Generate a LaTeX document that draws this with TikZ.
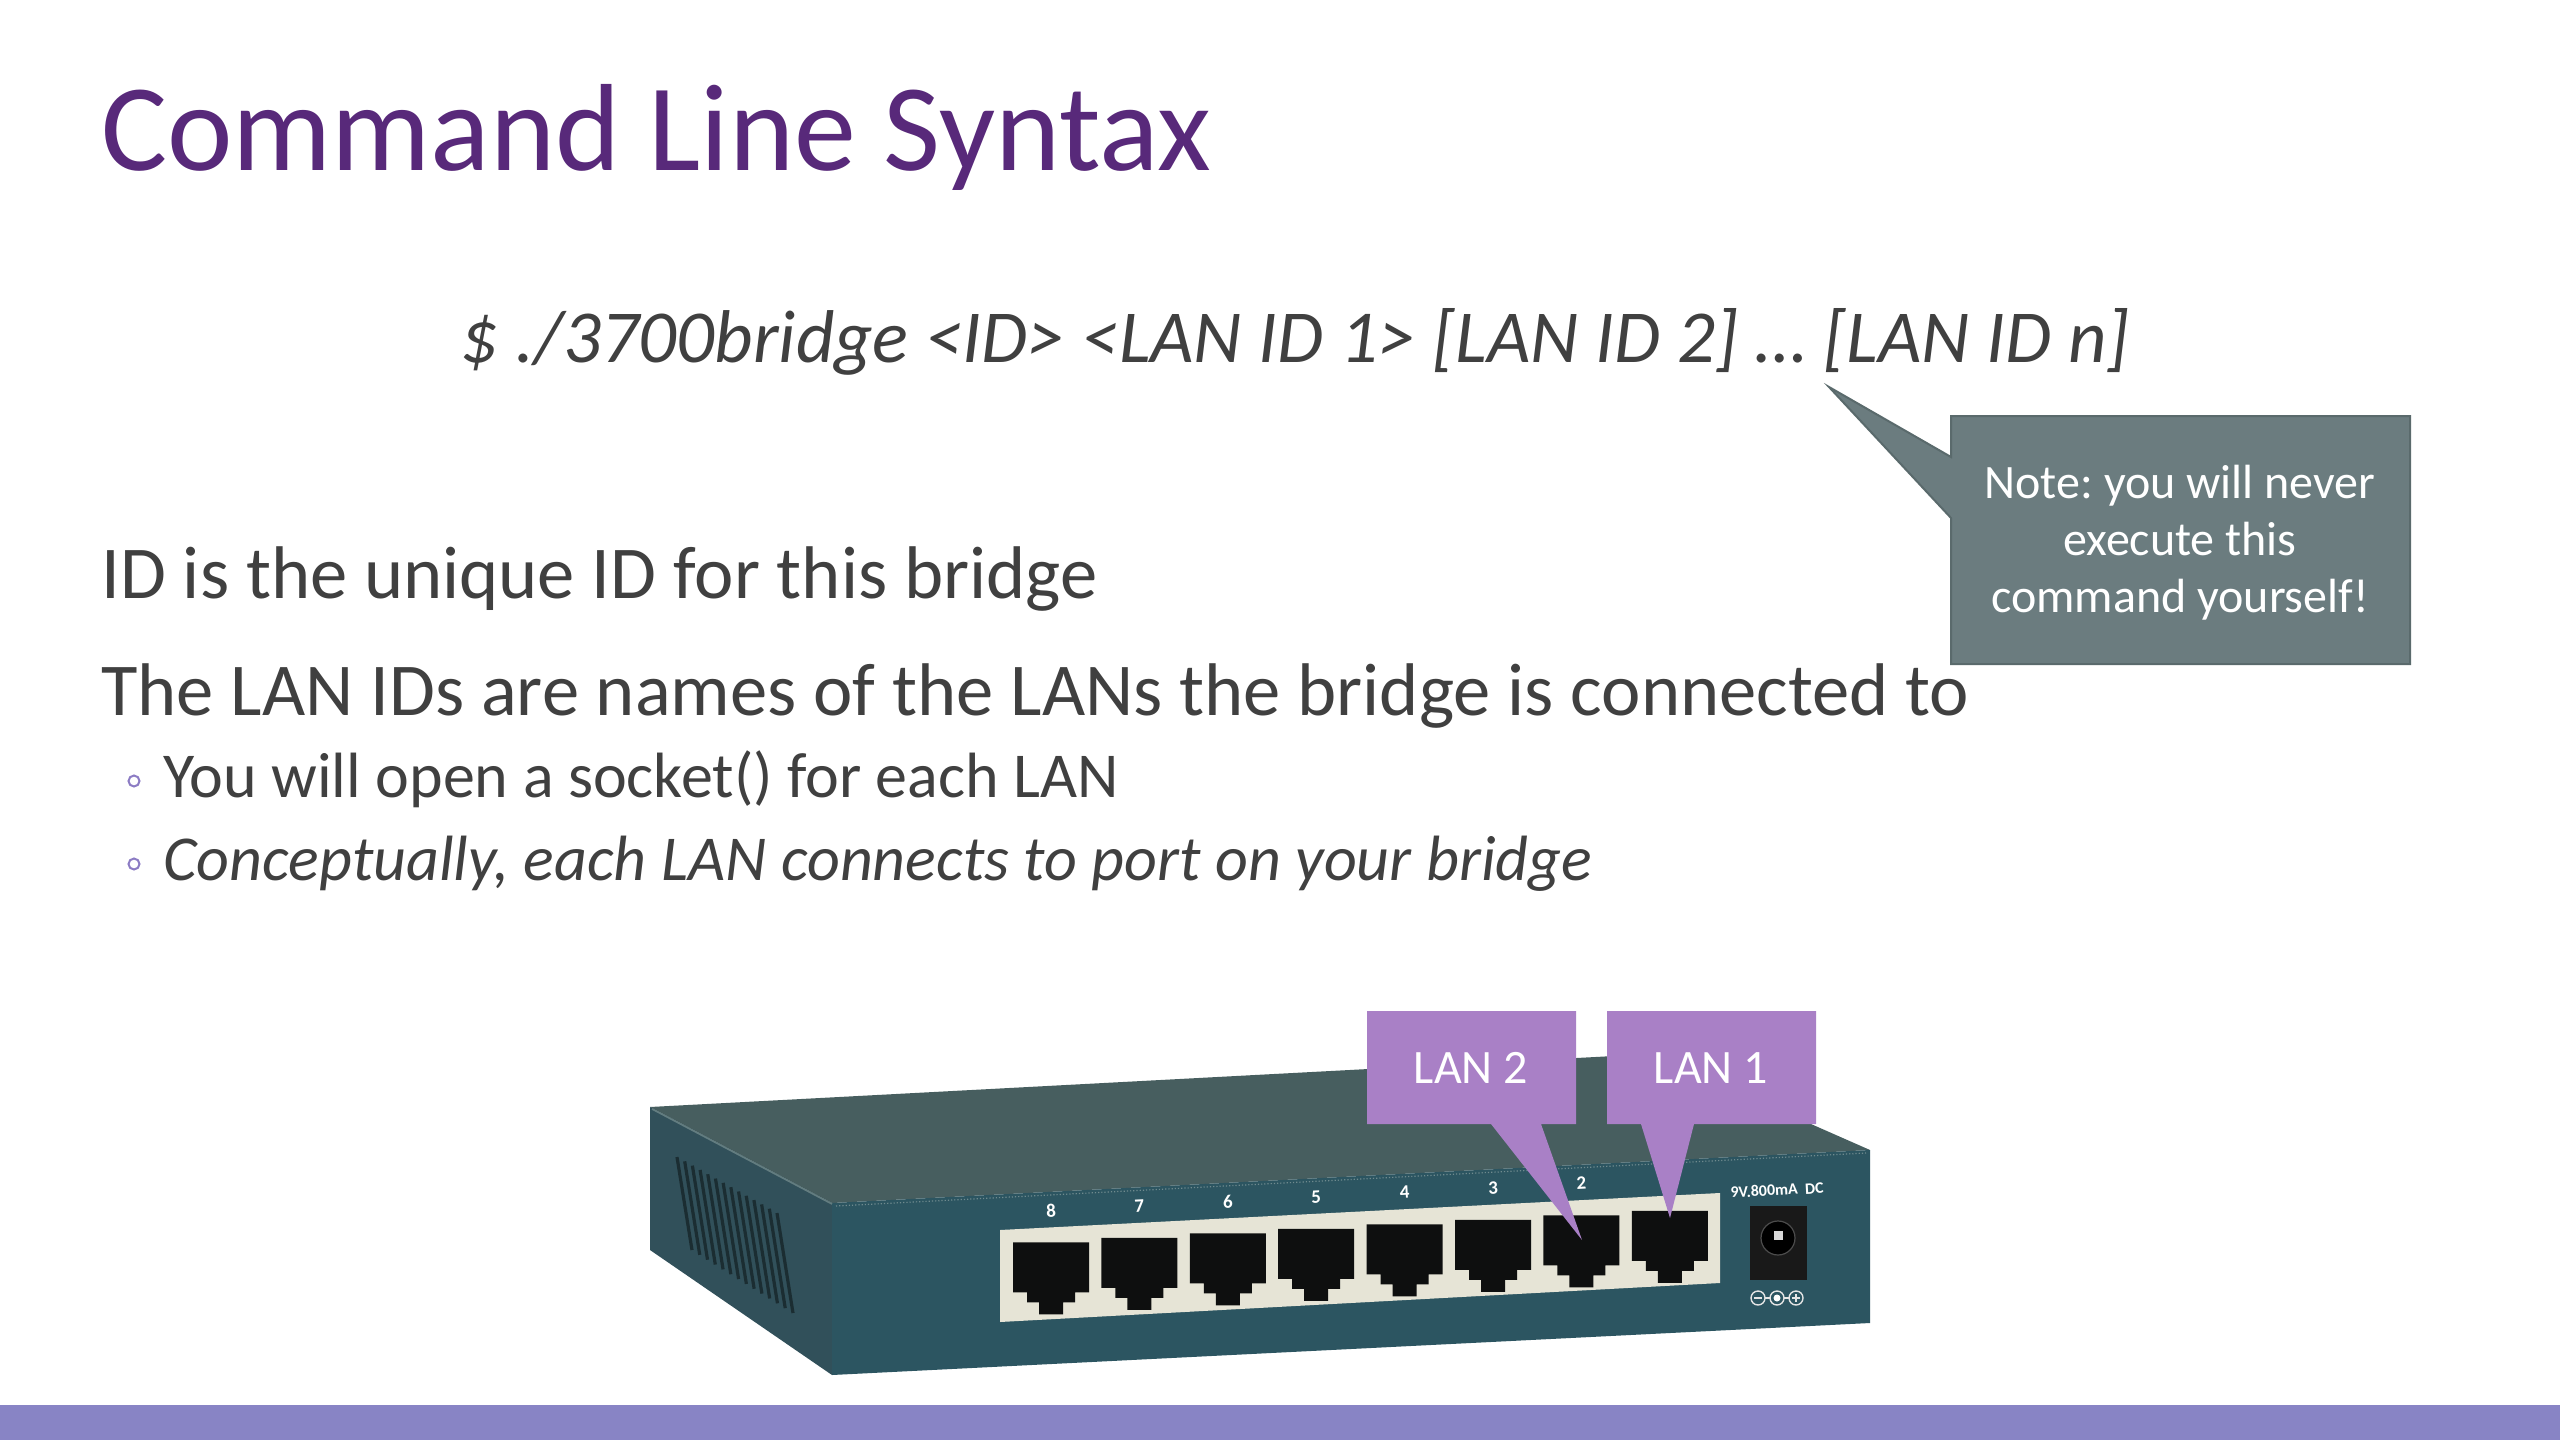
\documentclass[tikz,border=0pt]{standalone}
\usepackage{fontspec}
\setmainfont{Carlito}
\frenchspacing
\definecolor{titlecol}{HTML}{58297A}
\definecolor{textcol}{HTML}{404040}
\definecolor{barcol}{HTML}{8884C5}
\definecolor{notecol}{HTML}{6B7C7F}
\definecolor{noteedge}{HTML}{5A6A6C}
\definecolor{lancol}{HTML}{A980C6}
\definecolor{bulcol}{HTML}{8C7CC4}
\definecolor{topcol}{HTML}{475E5F}
\definecolor{sidecol}{HTML}{31505A}
\definecolor{frontcol}{HTML}{2C5561}
\definecolor{ventcol}{HTML}{1B2D32}
\definecolor{framecol}{HTML}{E6E4D6}
\definecolor{portcol}{HTML}{0E0F0F}
\definecolor{rimcol}{HTML}{6F8A8E}
\tikzset{
  txt/.style={inner sep=0pt, anchor=base west, text=textcol},
  notetxt/.style={inner sep=0pt, anchor=base, text=white, font=\fontsize{24}{28}\selectfont},
  lantxt/.style={inner sep=0pt, anchor=base, text=white, font=\fontsize{24}{28}\selectfont},
  portlab/.style={inner sep=0pt, text=white, font=\fontsize{9.5}{11}\selectfont\bfseries, rotate=3},
  bul/.style={draw=bulcol, line width=1pt}
}
\begin{document}
\begin{tikzpicture}[x=0.5pt,y=-0.5pt]
\useasboundingbox (0,0) rectangle (2560,1440);
\fill[white] (0,0) rectangle (2560,1440);
\fill[barcol] (0,1405) rectangle (2560,1440);

% title and text
\node[txt, text=titlecol, font=\fontsize{62}{70}\selectfont] (title) at (101,170) {Command Line Syntax};
\node[txt, font=\fontsize{37.4}{45}\selectfont\itshape] (cmd) at (460,362) {\$ ./3700bridge <ID> <LAN ID 1> [LAN ID 2] … [LAN ID n]};
\node[txt, font=\fontsize{37.3}{44}\selectfont] (l1) at (101,598) {ID is the unique ID for this bridge};
\node[txt, font=\fontsize{37.3}{44}\selectfont] (l2) at (101,715) {The LAN IDs are names of the LANs the bridge is connected to};
\draw[bul] (134,781) circle[radius=5.5];
\node[txt, font=\fontsize{32}{38}\selectfont] (s1) at (163,797) {You will open a socket() for each LAN};
\draw[bul] (134,864) circle[radius=5.5];
\node[txt, font=\fontsize{32}{38}\selectfont\itshape] (s2) at (163,880) {Conceptually, each LAN connects to port on your bridge};

% note callout
\coordinate (notetip) at (1829,387);
\filldraw[fill=notecol, draw=noteedge, line width=1pt]
  (1951,416) -- (2410,416) -- (2410,664) -- (1951,664) -- (1951,518) -- (notetip) -- (1951,457) -- cycle;
\node[notetxt] (n1) at (2180,498) {Note: you will never};
\node[notetxt] (n2) at (2180,555) {execute this};
\node[notetxt] (n3) at (2180,612) {command yourself!};

% switch: faces
\fill[topcol] (650,1107) -- (1652,1054) -- (1870,1150) -- (832,1203) -- cycle;
\fill[sidecol] (650,1107) -- (832,1203) -- (832,1375) -- (650,1250) -- cycle;
\fill[frontcol] (832,1203) -- (1870,1150) -- (1870,1323) -- (832,1375) -- cycle;
\draw[rimcol, line width=0.6pt, densely dotted] (836,1206) -- (1866,1153);
\draw[rimcol!70!topcol, line width=0.8pt] (652,1109) -- (832,1204);
% vents
\foreach \k in {0,...,13} {
  \draw[ventcol, line width=1.6pt] ({677+\k*100/13},{1157+\k*56/13}) -- ({692+\k*101/13},{1250+\k*63/13});
}
% port frame
\fill[framecol] (1000,1230) -- (1720,1193) -- (1720,1283) -- (1000,1322) -- cycle;
\foreach \i in {0,...,7} {
  \pgfmathsetmacro\px{1013+88.4*\i}
  \pgfmathsetmacro\py{1230-0.051*(\px-1000)+13}
  \fill[portcol] (\px,\py) -- ++(76,0) -- ++(0,50) -- ++(-14,0) -- ++(0,10) -- ++(-12,0) -- ++(0,12)
     -- ++(-24,0) -- ++(0,-12) -- ++(-12,0) -- ++(0,-10) -- ++(-14,0) -- cycle;
}
\foreach \n [count=\i from 0] in {8,7,6,5,4,3,2} {
  \pgfmathsetmacro\cx{1051+88.4*\i}
  \pgfmathsetmacro\cy{1230-0.051*(\cx-1000)+14-31}
  \node[portlab] (plab\n) at (\cx,\cy) {\n};
}
% power jack
\node[inner sep=0pt, text=white, font=\fontsize{8}{10}\selectfont\bfseries, rotate=3] (dclab) at (1777,1190) {9V.800mA~~DC};
\fill[black!90] (1750,1206) rectangle (1807,1280);
\filldraw[fill=black, draw=black!70!white, line width=0.6pt] (1778,1238) circle[radius=17];
\fill[white!85!black] (1774,1231) rectangle (1783,1240);
\draw[white!90!black, line width=0.7pt] (1758,1298) circle[radius=7] (1777,1298) circle[radius=7] (1796,1298) circle[radius=7];
\fill[white] (1777,1298) circle[radius=3.5];
\draw[white!90!black, line width=0.7pt] (1754,1298) -- (1762,1298) (1765,1298) -- (1770,1298) (1784,1298) -- (1789,1298)
  (1792,1298) -- (1800,1298) (1796,1294) -- (1796,1302);

% LAN callouts
\coordinate (tip2) at (1582,1240);
\coordinate (tip1) at (1670,1218);
\fill[lancol] (1367,1011) -- (1576,1011) -- (1576,1124) -- (1541,1124) -- (tip2) -- (1491,1124) -- (1367,1124) -- cycle;
\fill[lancol] (1607,1011) -- (1816,1011) -- (1816,1124) -- (1694,1124) -- (tip1) -- (1641,1124) -- (1607,1124) -- cycle;
\node[lantxt] (lan2) at (1471,1083) {LAN 2};
\node[lantxt] (lan1) at (1711,1083) {LAN 1};
\end{tikzpicture}
\end{document}
